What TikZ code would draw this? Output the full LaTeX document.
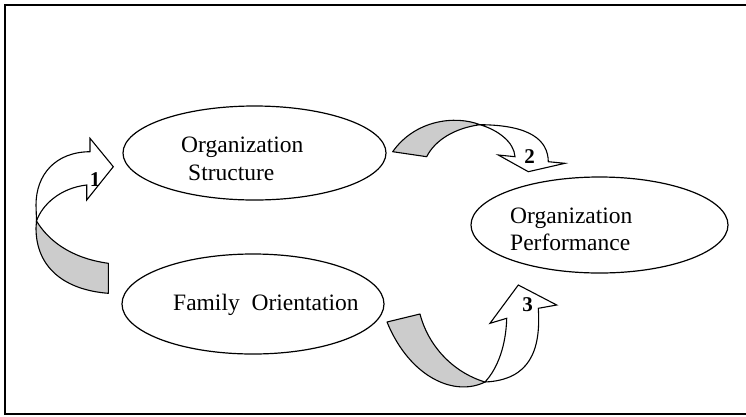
\documentclass[tikz,border=0pt]{standalone}
\usepackage{fontspec}
\setmainfont{Liberation Serif}
\usetikzlibrary{shapes.geometric}
\definecolor{bandgray}{RGB}{204,204,204}
\tikzset{
  oval/.style={ellipse, draw=black, line width=1.2pt, inner sep=0pt},
  label text/.style={anchor=base west, inner sep=0pt, font=\fontsize{23.5}{28}\selectfont},
  num/.style={inner sep=0pt, font=\fontsize{21}{24}\selectfont\bfseries},
  back band/.style={draw=black, fill=bandgray, line width=1.1pt, line join=round},
  front band/.style={draw=black, fill=white, line width=1.1pt, line join=miter},
  frame/.style={draw=black, line width=2pt}
}
\begin{document}
\begin{tikzpicture}[x=1pt, y=-1pt]
\useasboundingbox (0,0) rectangle (746,416);

% outer frame (its right side lies past the page edge)
\draw[frame] (750,4.5) -- (4.5,4.5) -- (4.5,414) -- (750,414);

% the three concepts
\node[oval, minimum width=263pt, minimum height=94pt] (os) at (254.5,153) {};
\node[oval, minimum width=257pt, minimum height=96pt] (op) at (599.5,225) {};
\node[oval, minimum width=262pt, minimum height=100pt] (fo) at (253,304) {};

\node[label text] (ostop) at (181,152) {Organization};
\node[label text] (osbot) at (188,180) {Structure};
\node[label text] (optop) at (510,223) {Organization};
\node[label text] (opbot) at (510,250) {Performance};
\node[label text] (fotxt) at (173,310) {Family~~Orientation};

% curved arrow 1: from family orientation up to organization structure
\draw[back band] (36.5,221) .. controls (48,240) and (70,258) .. (108.3,263.3)
  -- (108.3,293.3) .. controls (65,290) and (36,268) .. (36,228) -- cycle;
\draw[front band] (36.5,221) -- (36,205) .. controls (36,175) and (55,152) .. (90,151.7)
  -- (90,138.3) -- (113.3,166.7) -- (86.7,200) -- (86.7,185)
  .. controls (60,188) and (42,205) .. (36.5,221) -- cycle;
\node[num] (n1) at (95,179.5) {1};

% curved arrow 2: from organization structure over to performance
\draw[back band] (392.7,151.7) -- (426.7,156.7) .. controls (435,140) and (455,128) .. (480,124.7)
  .. controls (455,115) and (415,120) .. (392.7,151.7) -- cycle;
\draw[front band] (480,124.7) .. controls (498,130) and (514,142) .. (515,156.7)
  -- (498.3,155) -- (528.3,171.7) -- (565,163.3) -- (548.3,161.7)
  .. controls (548,140) and (530,125) .. (480,124.7) -- cycle;
\node[num] (n2) at (529.5,157) {2};

% curved arrow 3: from family orientation up to performance
\draw[back band] (387,322) -- (420,314) .. controls (428,345) and (452,372) .. (485,382)
  .. controls (455,397) and (410,378) .. (387,322) -- cycle;
\draw[front band] (485,382) .. controls (498,368) and (506,345) .. (506.7,318.3)
  -- (490,323.3) -- (518.3,285) -- (556.7,305) -- (538.3,308.3)
  .. controls (541,350) and (530,380) .. (485,382) -- cycle;
\node[num] (n3) at (527.5,304.5) {3};
\end{tikzpicture}
\end{document}
